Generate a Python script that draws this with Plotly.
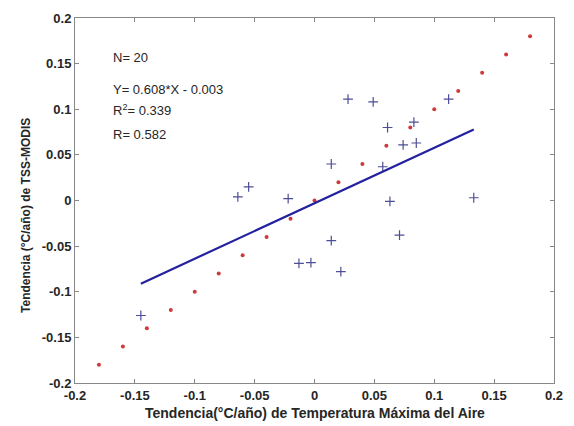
import plotly.graph_objects as go

# Red reference points (1:1 line)
ref_x = [-0.18, -0.16, -0.14, -0.12, -0.10, -0.08, -0.06, -0.04, -0.02, 0.0,
         0.02, 0.04, 0.06, 0.08, 0.10, 0.12, 0.14, 0.16, 0.18]
ref_y = [-0.18, -0.16, -0.14, -0.12, -0.10, -0.08, -0.06, -0.04, -0.02, 0.0,
         0.02, 0.04, 0.06, 0.08, 0.10, 0.12, 0.14, 0.16, 0.18]

# Blue observations
obs_x = [-0.145, -0.064, -0.055, -0.022, -0.013, -0.003, 0.014, 0.014, 0.022, 0.028,
         0.049, 0.057, 0.061, 0.063, 0.071, 0.074, 0.083, 0.085, 0.112, 0.133]
obs_y = [-0.126, 0.004, 0.015, 0.002, -0.069, -0.068, 0.040, -0.044, -0.078, 0.111,
         0.108, 0.037, 0.080, -0.001, -0.038, 0.061, 0.086, 0.063, 0.111, 0.003]

slope = 0.608
intercept = -0.003

tick_vals = [-0.2, -0.15, -0.1, -0.05, 0, 0.05, 0.1, 0.15, 0.2]
tick_text = ["-0.2", "-0.15", "-0.1", "-0.05", "0", "0.05", "0.1", "0.15", "0.2"]

stats_lines = ["N= 20", "Y= 0.608*X - 0.003", "R<sup>2</sup>= 0.339", "R= 0.582"]
stats_y = [0.892, 0.803, 0.747, 0.680]

line_x = [min(obs_x), max(obs_x)]
line_y = [slope * v + intercept for v in line_x]

fig = go.Figure()
fig.add_trace(go.Scatter(x=ref_x, y=ref_y, mode="markers",
                         marker=dict(color="#cc3a3a", size=4, line=dict(width=0)),
                         showlegend=False))
fig.add_trace(go.Scatter(x=obs_x, y=obs_y, mode="markers",
                         marker=dict(symbol="cross-thin", color="#4e4e98", size=7,
                                     line=dict(color="#4e4e98", width=1.2)),
                         showlegend=False))
fig.add_trace(go.Scatter(x=line_x, y=line_y, mode="lines",
                         line=dict(color="#2222a0", width=2.2), showlegend=False))

FONT = "Liberation Sans, Arial"
axis_common = dict(range=[-0.2, 0.2], tickvals=tick_vals,
                   ticktext=["<b>%s</b>" % t for t in tick_text],
                   ticks="inside", ticklen=4, tickcolor="#888888",
                   showline=True, linecolor="#888888", linewidth=1, mirror="allticks",
                   showgrid=False, zeroline=False,
                   tickfont=dict(family=FONT, size=13, color="#262626"))

fig.update_layout(
    width=574, height=426,
    margin=dict(l=75, r=11, t=14, b=43),
    paper_bgcolor="white", plot_bgcolor="white",
    xaxis=axis_common, yaxis=axis_common,
    font=dict(family=FONT, size=12, color="#262626"),
)

for txt, yy in zip(stats_lines, stats_y):
    fig.add_annotation(x=0.075, y=yy, xref="paper", yref="paper", text=txt,
                       showarrow=False, xanchor="left", yanchor="middle",
                       font=dict(family=FONT, size=13, color="#262626"))

fig.add_annotation(x=0.5, y=-0.055, xref="paper", yref="paper",
                   text="<b>Tendencia(°C/año) de Temperatura Máxima del Aire</b>",
                   showarrow=False, xanchor="center", yanchor="top",
                   font=dict(family=FONT, size=14, color="#262626"))
fig.add_annotation(x=-0.102, y=0.458, xref="paper", yref="paper",
                   text="<b>Tendencia (°C/año) de TSS-MODIS</b>", textangle=-90,
                   showarrow=False, xanchor="center", yanchor="middle",
                   font=dict(family=FONT, size=12, color="#262626"))

fig.write_html("out.html")
